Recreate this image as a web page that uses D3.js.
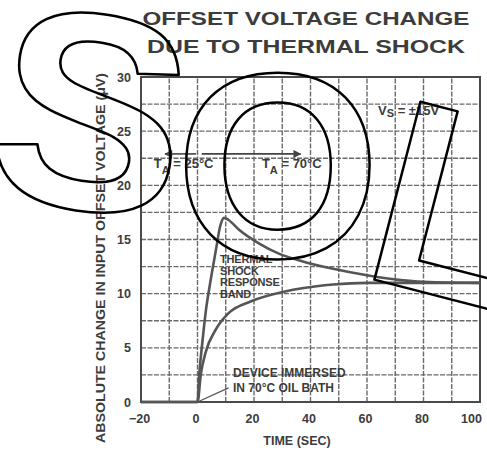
<!DOCTYPE html>
<html>
<head>
<meta charset="utf-8">
<script src="https://cdn.jsdelivr.net/npm/d3@7"></script>
<style>
  body { margin: 0; background: #fff; }
  svg { display: block; }
  text { font-family: "Liberation Sans", Arial, sans-serif; font-weight: bold; fill: #3c3c3c; }
</style>
</head>
<body>
<svg id="chart" width="487" height="454"></svg>
<script>
// upper edge of the response band (time in sec, offset change in uV)
var upperTime = [-20, 0, 0.6, 1.8, 3, 4.5, 6.5, 8, 9.4, 11, 14.7, 21.7, 28.8, 37, 48, 60, 72, 84, 100]
var upperBand = [0, 0, 2.5, 5.7, 8.5, 11, 14, 16.2, 17, 16.8, 15.9, 14.65, 13.7, 13.0, 12.3, 11.7, 11.25, 11.05, 11.0]

// lower edge of the response band
var lowerTime = [-20, 0, 1.2, 2.9, 6.5, 11, 19, 31, 37, 48, 60, 80, 100]
var lowerBand = [0, 0, 2.6, 4.6, 6.7, 8.2, 9.3, 10.2, 10.5, 10.85, 11.0, 11.0, 11.0]

var xTicks = [-20, 0, 20, 40, 60, 80, 100]
var yTicks = [0, 5, 10, 15, 20, 25, 30]
var titleLines = ["OFFSET VOLTAGE CHANGE", "DUE TO THERMAL SHOCK"]
var bandLabel = ["THERMAL", "SHOCK", "RESPONSE", "BAND"]
var deviceLabel = ["DEVICE IMMERSED", "IN 70°C OIL BATH"]

var svg = d3.select("#chart")

var x = d3.scaleLinear().domain([-20, 100]).range([141, 480])
var y = d3.scaleLinear().domain([0, 30]).range([402, 77])

// title
svg.selectAll(".title")
    .data(titleLines)
    .join("text")
    .attr("class", "title")
    .attr("x", 306)
    .attr("y", (d, i) => 25 + i * 28)
    .attr("text-anchor", "middle")
    .attr("font-size", 18.5)
    .attr("textLength", (d, i) => i == 0 ? 327 : 318)
    .attr("lengthAdjust", "spacingAndGlyphs")
    .text(d => d)

// grid
var gGrid = svg.append("g")
    .attr("stroke", "#6a6a6a")
    .attr("stroke-width", 1.4)
    .attr("stroke-dasharray", "5,1.5")

gGrid.selectAll(".gx")
    .data(d3.range(-10, 100, 10))
    .join("line")
    .attr("class", "gx")
    .attr("x1", d => x(d)).attr("x2", d => x(d))
    .attr("y1", y(0)).attr("y2", y(30))

gGrid.selectAll(".gy")
    .data(d3.range(2.5, 30, 2.5))
    .join("line")
    .attr("class", "gy")
    .attr("y1", d => y(d)).attr("y2", d => y(d))
    .attr("x1", x(-20)).attr("x2", x(100))

svg.append("rect")
    .attr("x", x(-20)).attr("y", y(30))
    .attr("width", x(100) - x(-20))
    .attr("height", y(0) - y(30))
    .attr("fill", "none")
    .attr("stroke", "#4a4a4a")
    .attr("stroke-width", 2)

// axes
var yAxis = svg.append("g")
    .attr("transform", "translate(" + x(-20) + ",0)")
    .call(d3.axisLeft(y).tickValues(yTicks).tickSize(0).tickPadding(10))
yAxis.select(".domain").remove()
yAxis.selectAll("text").attr("font-size", 12.5).attr("fill", "#3c3c3c")
    .style("font-family", "Liberation Sans").style("font-weight", "bold")

var xAxis = svg.append("g")
    .attr("transform", "translate(0," + y(0) + ")")
    .call(d3.axisBottom(x).tickValues(xTicks).tickSize(0).tickPadding(12))
xAxis.select(".domain").remove()
xAxis.selectAll("text").attr("font-size", 12.5).attr("fill", "#3c3c3c")
    .style("font-family", "Liberation Sans").style("font-weight", "bold")
    .attr("dx", d => d == 100 ? -9 : -2)

svg.append("text")
    .attr("x", 297).attr("y", 445)
    .attr("text-anchor", "middle")
    .attr("font-size", 12.5)
    .text("TIME (SEC)")

svg.append("text")
    .attr("transform", "translate(105,258) rotate(-90)")
    .attr("text-anchor", "middle")
    .attr("font-size", 12.5)
    .attr("textLength", 370)
    .attr("lengthAdjust", "spacingAndGlyphs")
    .text("ABSOLUTE CHANGE IN INPUT OFFSET VOLTAGE (μV)")

// band curves
var line = d3.line()
    .x(d => x(d[0]))
    .y(d => y(d[1]))
    .curve(d3.curveMonotoneX)

svg.append("path")
    .datum(d3.zip(upperTime, upperBand))
    .attr("d", line)
    .attr("fill", "none")
    .attr("stroke", "#555")
    .attr("stroke-width", 2.6)

svg.append("path")
    .datum(d3.zip(lowerTime, lowerBand))
    .attr("d", line)
    .attr("fill", "none")
    .attr("stroke", "#555")
    .attr("stroke-width", 2.6)

// ambient temperature arrows
svg.append("defs").append("marker")
    .attr("id", "head")
    .attr("viewBox", "0 0 10 10")
    .attr("refX", 9).attr("refY", 5)
    .attr("markerWidth", 7).attr("markerHeight", 5)
    .attr("orient", "auto")
    .append("path")
    .attr("d", "M0,0L10,5L0,10Z")
    .attr("fill", "#444")

var arrows = [[-0.5, -11.5], [1.5, 36.5]]
svg.selectAll(".arrow")
    .data(arrows)
    .join("line")
    .attr("class", "arrow")
    .attr("x1", d => x(d[0])).attr("x2", d => x(d[1]))
    .attr("y1", y(22.9)).attr("y2", y(22.9))
    .attr("stroke", "#444")
    .attr("stroke-width", 1.6)
    .attr("marker-end", "url(#head)")

var ta = [["25°C", -15.5], ["70°C", 22.8]]
ta.forEach(function(d) {
    var t = svg.append("text")
        .attr("x", x(d[1])).attr("y", 168)
        .attr("font-size", 13)
    t.append("tspan").text("T")
    t.append("tspan").attr("dy", 6).attr("font-size", 11).text("A")
    t.append("tspan").attr("dy", -6).text(" = " + d[0])
})

var vs = svg.append("text").attr("x", 378).attr("y", 115).attr("font-size", 13)
vs.append("tspan").text("V")
vs.append("tspan").attr("dy", 2).attr("font-size", 11).text("S")
vs.append("tspan").attr("dy", -2).text(" = ±15V")

svg.selectAll(".band")
    .data(bandLabel)
    .join("text")
    .attr("class", "band")
    .attr("x", 220)
    .attr("y", (d, i) => 263 + i * 11.5)
    .attr("font-size", 11)
    .attr("letter-spacing", -0.2)
    .text(d => d)

svg.selectAll(".device")
    .data(deviceLabel)
    .join("text")
    .attr("class", "device")
    .attr("x", 233)
    .attr("y", (d, i) => 377 + i * 15)
    .attr("font-size", 12)
    .text(d => d)

svg.append("line")
    .attr("x1", x(0)).attr("y1", y(0))
    .attr("x2", x(11)).attr("y2", y(1.3))
    .attr("stroke", "#555")
    .attr("stroke-width", 1.3)

// outlined letters laid over the chart
var overlay = svg.append("g")
    .style("font-family", "Liberation Sans")
    .style("font-weight", "bold")

overlay.append("text")
    .attr("transform", "translate(92,108) rotate(9) scale(1.04,1)")
    .attr("x", 0).attr("y", 101)
    .attr("text-anchor", "middle")
    .attr("font-size", 280)
    .text("S")

overlay.append("text")
    .attr("x", 278).attr("y", 257)
    .attr("text-anchor", "middle")
    .attr("font-size", 264)
    .text("O")

overlay.append("text")
    .attr("transform", "translate(376,280) rotate(14.5)")
    .attr("x", -19.5).attr("y", 0)
    .attr("font-size", 267)
    .text("L")

overlay.selectAll("text")
    .style("fill", "none")
    .attr("stroke", "#000")
    .attr("stroke-width", 2.5)
    .attr("stroke-linejoin", "round")
</script>
</body>
</html>
